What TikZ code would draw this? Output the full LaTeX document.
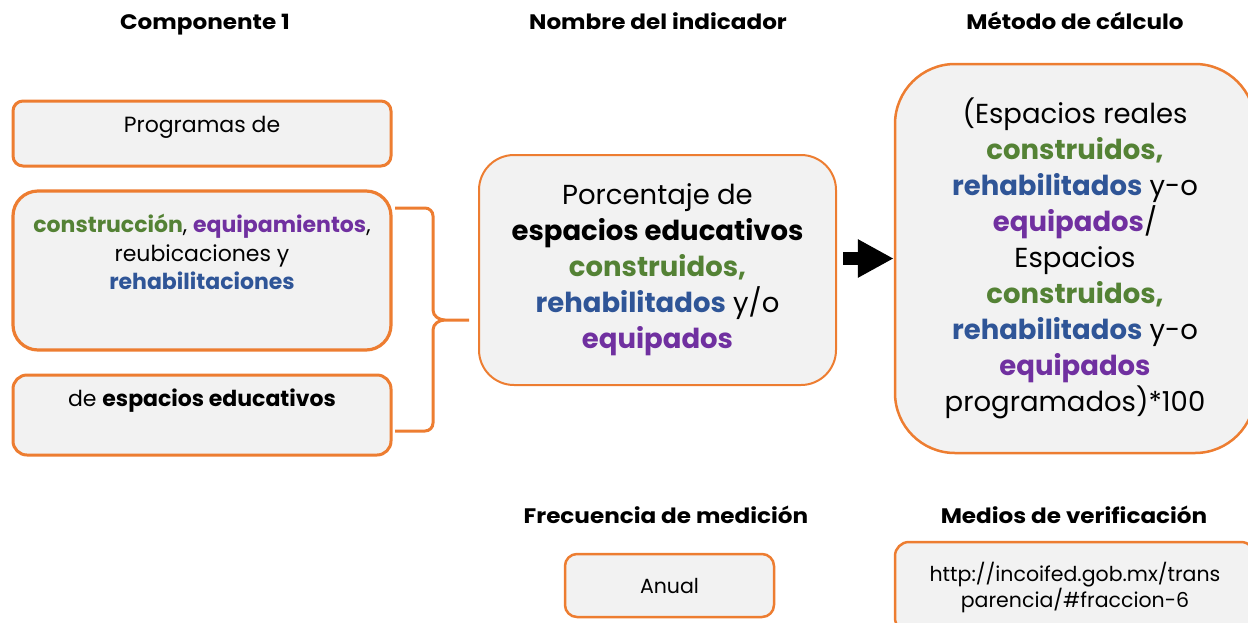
\documentclass[tikz,border=0pt]{standalone}
\usepackage{fontspec}
\setmainfont{Poppins}
\usetikzlibrary{arrows.meta}
\definecolor{org}{HTML}{ED7D31}
\definecolor{boxfill}{HTML}{F2F2F2}
\definecolor{cgreen}{HTML}{548235}
\definecolor{cblue}{HTML}{2F5597}
\definecolor{cpurple}{HTML}{7030A0}
\newcommand\cgr[1]{\textbf{\color{cgreen}#1}}
\newcommand\cbl[1]{\textbf{\color{cblue}#1}}
\newcommand\cpu[1]{\textbf{\color{cpurple}#1}}
\begin{document}
\begin{tikzpicture}[x=1pt,y=-1pt,
  box/.style={draw=org, fill=boxfill, rounded corners=#1, inner sep=0pt},
  box/.default=10pt,
  hdr/.style={font=\bfseries\fontsize{21}{24}\selectfont, inner sep=0pt, anchor=base, xscale=1.1, transform shape},
  txt/.style={align=center, inner sep=0pt, font=\fontsize{22}{28.5}\selectfont},
  big/.style={align=center, inner sep=0pt, font=\fontsize{27.5}{36}\selectfont},
  small/.style={align=center, inner sep=0pt, font=\fontsize{20.5}{26}\selectfont},
  bigarrow/.style={-{Triangle[length=36pt,width=36pt]}, line width=13pt}]
\useasboundingbox (0,0) rectangle (1248,622);
% headers
\node[hdr] (h1) at (205,29.5) {Componente 1};
\node[hdr] (h2) at (658,29.5) {Nombre del indicador};
\node[hdr] (h3) at (1075,29.5) {Método de cálculo};
\node[hdr] (h4) at (666,523.5) {Frecuencia de medición};
\node[hdr] (h5) at (1074,523.5) {Medios de verificación};
% left boxes
\node[box=10pt, line width=3pt, minimum width=378, minimum height=65] (bA) at (202,133.5) {};
\node[txt, anchor=base] (tA) at (202,132) {Programas de};
\node[box=25pt, line width=3.2pt, minimum width=378, minimum height=159] (bB) at (202,270.5) {};
\node[txt] (tB) at (202,252) {\cgr{construcción}, \cpu{equipamientos},\\reubicaciones y\\\cbl{rehabilitaciones}};
\node[box=14pt, line width=3pt, minimum width=378, minimum height=80] (bC) at (202,415) {};
\node[txt, anchor=base] (tC) at (202,406) {de \textbf{espacios educativos}};
% brace
\draw[org, line width=3pt] (395,208) -- (425,208) to[out=0,in=90] (433,216) -- (433,310)
  to[out=-90,in=180] (445,320) -- (469,320) -- (445,320) to[out=180,in=90] (433,330)
  -- (433,423) to[out=-90,in=0] (425,431) -- (395,431);
% middle box
\node[box=35pt, line width=2pt, minimum width=357, minimum height=230, big] (mid) at (657.5,270)
  {Porcentaje de\\\textbf{espacios educativos}\\\cgr{construidos,}\\\cbl{rehabilitados} y/o\\\cpu{equipados}};
% right box
\node[box=60pt, line width=2.5pt, minimum width=360, minimum height=389, big] (rgt) at (1075,258.5)
  {(Espacios reales\\\cgr{construidos,}\\\cbl{rehabilitados} y-o\\\cpu{equipados}/\\Espacios\\\cgr{construidos,}\\\cbl{rehabilitados} y-o\\\cpu{equipados}\\programados)*100};
% arrow
\draw[bigarrow] ([xshift=6pt]mid.east |- rgt.west) -- (rgt.west);
% bottom boxes
\node[box=12pt, line width=2.5pt, minimum width=209, minimum height=63, small] (anual) at (669.5,585.5) {Anual};
\node[box=14pt, line width=2.5pt, minimum width=360, minimum height=90, small] (url) at (1075,587)
  {http://incoifed.gob.mx/trans\\parencia/\#fraccion-6};
\end{tikzpicture}
\end{document}
